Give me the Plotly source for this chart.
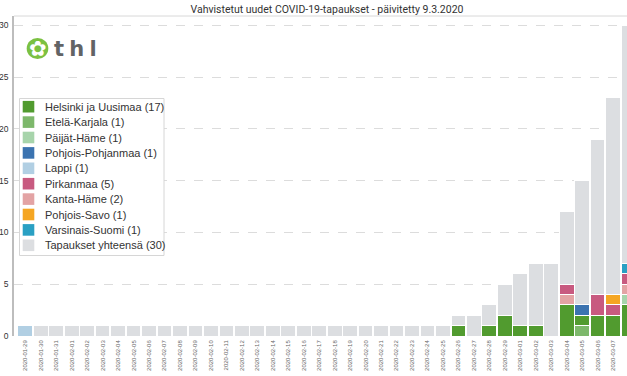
import datetime as dt
import plotly.graph_objects as go

# ---------------- data ----------------
start = dt.date(2020, 1, 29)
dates = [(start + dt.timedelta(days=i)).isoformat() for i in range(40)]

# cumulative total of confirmed cases per day
total = [1] * 28 + [2, 2, 3, 5, 6, 7, 7, 12, 15, 19, 23, 30]

def daily(d):
    out = [0] * 40
    for k, v in d.items():
        out[dates.index(k)] = v
    return out

helsinki = daily({"2020-02-26": 1, "2020-02-28": 1, "2020-02-29": 2, "2020-03-01": 1,
                  "2020-03-02": 1, "2020-03-04": 3, "2020-03-05": 1, "2020-03-06": 2,
                  "2020-03-07": 2, "2020-03-08": 3})
etela_karjala = daily({"2020-03-05": 1})
paijat_hame = daily({"2020-03-08": 1})
pohjois_pohjanmaa = daily({"2020-03-05": 1})
lappi = daily({"2020-01-29": 1})
pirkanmaa = daily({"2020-03-04": 1, "2020-03-06": 2, "2020-03-07": 1, "2020-03-08": 1})
kanta_hame = daily({"2020-03-04": 1, "2020-03-08": 1})
pohjois_savo = daily({"2020-03-07": 1})
varsinais_suomi = daily({"2020-03-08": 1})

names = {
    "hel": "Helsinki ja Uusimaa (17)",
    "ek": "Etelä-Karjala (1)",
    "ph": "Päijät-Häme (1)",
    "pp": "Pohjois-Pohjanmaa (1)",
    "la": "Lappi (1)",
    "pi": "Pirkanmaa (5)",
    "kh": "Kanta-Häme (2)",
    "ps": "Pohjois-Savo (1)",
    "vs": "Varsinais-Suomi (1)",
    "tot": "Tapaukset yhteensä (30)",
}
colors = {
    "hel": "#519b2f", "ek": "#7db86b", "ph": "#a7d4ab", "pp": "#3b73b0",
    "la": "#b1cfe3", "pi": "#c85a80", "kh": "#e3a3a4", "ps": "#f5a623",
    "vs": "#2aa0c3", "tot": "#dcdee1",
}
legend_order = ["hel", "ek", "ph", "pp", "la", "pi", "kh", "ps", "vs", "tot"]

series = {"hel": helsinki, "ek": etela_karjala, "ph": paijat_hame, "pp": pohjois_pohjanmaa,
          "la": lappi, "pi": pirkanmaa, "kh": kanta_hame, "ps": pohjois_savo,
          "vs": varsinais_suomi}
new_sum = [sum(series[k][i] for k in series) for i in range(40)]
series["tot"] = [t - n for t, n in zip(total, new_sum)]

stack_order = ["ek", "hel", "la", "ph", "kh", "pi", "ps", "vs", "pp", "tot"]

fig = go.Figure()
for k in stack_order:
    fig.add_trace(go.Bar(
        x=dates, y=series[k], name=names[k],
        marker=dict(color=colors[k], line=dict(color="white", width=1)),
        showlegend=False,
        hoverinfo="x+y+name",
    ))

W, H = 627, 376
L, R, T, B = 14, 0, 16, 40
pw, ph = W - L - R, H - T - B

def px(x):
    return (x - L) / pw

def py(y):
    return (H - B - y) / ph

font = "Liberation Sans, Arial, sans-serif"

fig.update_layout(
    width=W, height=H,
    margin=dict(l=L, r=R, t=T, b=B, pad=0, autoexpand=False),
    barmode="stack", bargap=0.05,
    plot_bgcolor="white", paper_bgcolor="white",
    font=dict(family=font, color="#333333", size=10),
    title=dict(text="Vahvistetut uudet COVID-19-tapaukset - päivitetty 9.3.2020",
               xref="container", x=327 / W, xanchor="center", y=1 - 9.5 / H, yanchor="middle",
               font=dict(family="Roboto, sans-serif", size=10.5, color="#333333")),
    showlegend=False,
    xaxis=dict(type="category", range=[-0.73, 38.9], showgrid=False, automargin=False,
               tickangle=-90, tickfont=dict(size=6, color="#666666", family=font),
               showline=False, ticks="", zeroline=False, ticklabelstandoff=2),
    yaxis=dict(range=[0, 30.9], tickvals=[0, 5, 10, 15, 20, 25, 30], automargin=False,
               showgrid=True, gridcolor="#dcdcdc", griddash="dash", gridwidth=1,
               showline=True, linecolor="#bdbdbd", linewidth=1.5,
               zeroline=False, ticks="", ticklabelstandoff=2,
               tickfont=dict(size=8.5, color="#333333", family=font)),
)

# faint top border of the plot area
fig.add_shape(type="line", xref="paper", yref="paper", x0=0, x1=1, y0=1, y1=1,
              line=dict(color="#d8d8d8", width=1))

# legend (box, swatches, labels)
lx0, lx1, ly0, ly1 = 19.5, 164, 98.5, 255.5
row0, step, sw = 106.7, 15.4, 11.6
fig.add_shape(type="rect", xref="paper", yref="paper", layer="above",
              x0=px(lx0), x1=px(lx1), y0=py(ly1), y1=py(ly0),
              fillcolor="white", line=dict(color="#d6d6d6", width=1))
for i, k in enumerate(legend_order):
    cy = row0 + step * i
    fig.add_shape(type="rect", xref="paper", yref="paper", layer="above",
                  x0=px(22.7), x1=px(22.7 + sw), y0=py(cy + sw / 2), y1=py(cy - sw / 2),
                  fillcolor=colors[k], line=dict(width=0))
    fig.add_annotation(xref="paper", yref="paper", x=px(42.5), y=py(cy),
                       text=names[k], showarrow=False, xanchor="left", yanchor="middle",
                       font=dict(family=font, size=11, color="#333333"))

# thl logo
fig.add_shape(type="circle", xref="paper", yref="paper",
              x0=px(26.7), x1=px(48.3), y0=py(59), y1=py(38),
              fillcolor="#7bc142", line=dict(width=0))
fig.add_annotation(xref="paper", yref="paper", x=px(37.5), y=py(48.5),
                   text="✿", showarrow=False, xanchor="center", yanchor="middle",
                   font=dict(size=21, color="white", family="DejaVu Sans"))
fig.add_annotation(xref="paper", yref="paper", x=px(52), y=py(49),
                   text="<b>t\u2005h\u2005l</b>", showarrow=False, xanchor="left", yanchor="middle",
                   font=dict(size=21, color="#626365", family="DejaVu Sans"))

fig.write_html("out.html", config={"displayModeBar": False},
               post_script="document.body.style.margin='0';")
